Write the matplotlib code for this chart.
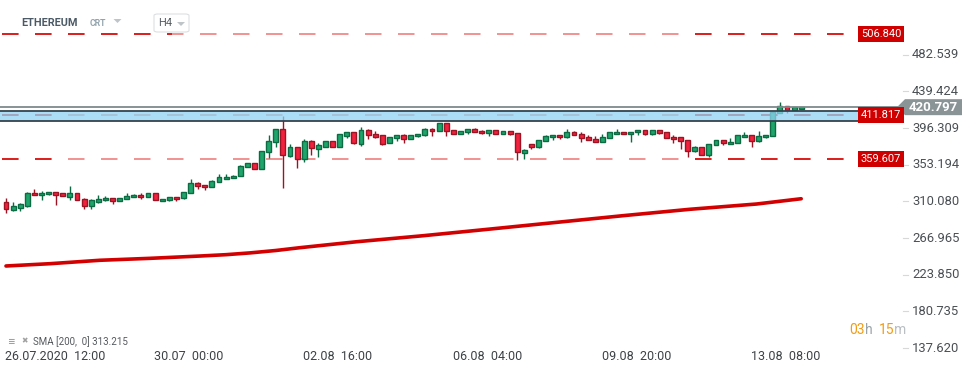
import matplotlib
matplotlib.use("Agg")
import matplotlib.pyplot as plt
import matplotlib.transforms as mtransforms
from matplotlib.patches import Rectangle, FancyBboxPatch, Polygon
import numpy as np

# ---------------- data ----------------
opens = [309.0, 300.4, 302.7, 304.3, 320.0, 317.2, 318.4, 320.7, 319.6, 315.6,
         319.6, 312.5, 304.3, 309.8, 311.3, 313.7, 310.2, 312.5, 314.9, 317.2,
         314.9, 319.6, 310.2, 311.3, 314.9, 313.7, 319.6, 331.3, 329.0, 326.6,
         332.5, 336.0, 337.2, 339.5, 350.1, 354.8, 347.8, 367.7, 379.5, 395.1,
         363.8, 373.6, 359.5, 380.7, 372.0, 374.4, 380.7, 374.4, 387.3, 391.2,
         377.9, 393.6, 388.9, 387.7, 378.3, 384.2, 387.7, 383.0, 386.5, 387.7,
         394.7, 392.4, 401.8, 393.6, 388.9, 391.2, 394.7, 392.4, 390.0, 393.6,
         388.9, 392.4, 390.0, 367.3, 377.1, 374.4, 380.7, 385.4, 387.7, 386.1,
         391.2, 388.9, 385.4, 383.0, 379.5, 384.2, 388.9, 391.2, 388.9, 391.2,
         393.6, 388.9, 393.6, 391.2, 385.4, 385.4, 381.8, 368.9, 373.6, 364.2,
         376.0, 381.8, 377.1, 378.3, 385.4, 387.7, 380.7, 385.4, 386.5, 413.5,
         421.8, 417.1, 418.2]
highs = [314.1, 309.0, 308.2, 320.7, 324.6, 321.9, 320.7, 320.7, 319.6, 328.2,
         319.6, 314.1, 312.5, 317.2, 316.0, 313.7, 313.7, 320.0, 318.8, 320.0,
         319.6, 319.6, 312.5, 314.9, 314.9, 320.7, 336.4, 332.5, 329.0, 334.8,
         342.3, 341.9, 340.7, 352.5, 354.8, 354.8, 369.3, 388.1, 395.1, 410.8,
         377.5, 373.6, 383.4, 382.2, 378.3, 380.7, 381.5, 388.9, 391.2, 391.2,
         397.1, 394.7, 392.4, 387.7, 385.4, 387.7, 388.9, 387.7, 388.9, 395.9,
         395.9, 401.8, 401.8, 393.6, 392.4, 394.7, 395.9, 393.6, 393.6, 393.6,
         392.4, 392.4, 390.0, 371.3, 377.1, 381.8, 387.7, 387.7, 387.7, 394.7,
         392.4, 391.2, 387.7, 386.5, 388.9, 391.2, 394.7, 391.2, 391.2, 393.6,
         393.6, 393.6, 393.6, 391.2, 387.7, 385.4, 381.8, 375.6, 373.6, 377.1,
         381.8, 381.8, 384.2, 387.7, 391.2, 387.7, 392.4, 387.7, 414.7, 426.9,
         421.8, 420.6, 420.8]
lows = [296.8, 299.2, 299.2, 303.9, 317.2, 312.1, 317.2, 306.2, 316.0, 312.1,
        311.3, 301.5, 301.5, 308.6, 310.2, 307.4, 310.2, 312.5, 314.9, 313.3,
        314.9, 311.3, 310.2, 310.2, 310.9, 312.5, 319.6, 325.0, 323.9, 326.6,
        332.5, 336.0, 337.2, 339.5, 350.1, 347.8, 347.8, 361.5, 374.4, 326.2,
        361.9, 349.7, 356.8, 364.6, 362.6, 374.4, 374.4, 374.4, 384.2, 377.9,
        375.6, 383.0, 385.0, 376.7, 378.3, 380.7, 379.1, 383.0, 385.4, 386.5,
        386.5, 392.4, 386.5, 388.9, 388.9, 388.9, 391.2, 388.9, 386.5, 388.9,
        388.9, 387.7, 358.7, 360.3, 372.0, 373.2, 380.7, 381.8, 383.0, 384.2,
        387.7, 380.3, 381.8, 379.5, 379.5, 384.2, 388.9, 388.9, 380.3, 387.7,
        387.7, 387.7, 388.9, 384.2, 378.3, 372.0, 361.9, 367.7, 364.2, 361.9,
        376.0, 376.7, 377.1, 378.3, 385.4, 373.6, 379.5, 384.2, 386.5, 413.5,
        413.5, 417.1, 418.2]
closes = [301.5, 304.3, 307.0, 319.6, 317.2, 319.6, 320.7, 318.0, 316.0, 319.6,
          311.3, 304.3, 311.3, 312.5, 313.7, 310.2, 313.7, 316.0, 317.2, 314.9,
          319.6, 311.3, 312.5, 314.9, 312.5, 320.7, 331.3, 327.8, 326.6, 333.7,
          338.4, 338.4, 339.5, 351.3, 354.8, 347.8, 369.3, 380.7, 395.1, 364.2,
          373.6, 359.5, 380.7, 372.4, 376.0, 380.7, 374.4, 388.9, 391.2, 379.1,
          393.6, 387.7, 386.1, 377.9, 385.4, 387.7, 383.0, 387.7, 388.9, 394.7,
          392.4, 401.8, 392.4, 388.9, 392.4, 394.7, 391.2, 390.0, 393.6, 388.9,
          392.4, 388.9, 367.7, 370.1, 374.4, 381.8, 386.5, 387.7, 385.4, 391.2,
          387.7, 384.2, 381.8, 379.5, 385.4, 391.2, 391.2, 388.9, 391.2, 393.6,
          388.9, 393.6, 390.0, 384.2, 383.0, 380.7, 368.9, 373.6, 364.2, 377.1,
          381.8, 378.3, 379.5, 387.7, 387.7, 380.7, 386.5, 387.7, 414.7, 421.8,
          417.1, 420.6, 420.8]

sma_idx = [0, 6.2, 13.2, 20.3, 27.3, 31.0, 34.4, 38.0, 41.4, 49.4, 58.8, 68.2, 77.6, 86.9, 96.3, 105.7, 112]
sma_val = [234.2, 236.9, 240.9, 243.2, 245.9, 247.5, 249.6, 252.4, 255.7, 262.7, 269.8, 277.6,
           285.5, 293.3, 300.8, 307.0, 313.2]

level_lines = [506.840, 411.817, 359.607]
band_low, band_high = 404.2, 415.9
current_price = 420.797
sma_label = "SMA [200,  0] 313.215"
countdown_parts = ["03", "h ", "15", "m"]

y_ticks = [482.539, 439.424, 396.309, 353.194, 310.080, 266.965, 223.850, 180.735, 137.620]
time_labels = ["26.07.2020  12:00", "30.07  00:00", "02.08  16:00",
               "06.08  04:00", "09.08  20:00", "13.08  08:00"]
time_idx = [0, 21, 42, 63, 84, 105]

# ---------------- figure ----------------
W, H = 974, 375
plt.rcParams["font.family"] = ["Roboto", "DejaVu Sans"]
fig = plt.figure(figsize=(W / 100, H / 100), dpi=100)
fig.patch.set_facecolor("white")
ax = fig.add_axes([0, 0, 1, 1])
ax.set_axis_off()

STEP = 7.1
X0 = 6.0
PX_PRICE = 1.1748
ax.set_xlim(-X0 / STEP, (W - X0) / STEP)
ax.set_ylim(396.309 - (H - 128) * PX_PRICE, 396.309 + 128 * PX_PRICE)


def fx(px):
    return px / W


def fy(py):
    return 1 - py / H


xmax_lines = (845 - X0) / STEP
xmax_band = (858 - X0) / STEP
xmax_gray = (898 - X0) / STEP
x_start = -X0 / STEP

# ---- dashed level lines (light middle, stronger ends) ----
dash = (0, (10.8, 10.8))
for lv in level_lines:
    ax.plot([x_start + 2 / STEP, xmax_lines], [lv, lv], color="#ec7474", lw=1.1,
            linestyle=dash, zorder=1)
    for (a, b) in [(-10, (172 if lv > 500 else 60)), (690, 860)]:
        ln, = ax.plot([x_start + 2 / STEP, xmax_lines], [lv, lv], color="#d80000", lw=1.1,
                      linestyle=dash, zorder=1.1)
        clip = Rectangle(((a - X0) / STEP, lv - 5), (b - a) / STEP, 10,
                         transform=ax.transData, visible=False)
        ax.add_patch(clip)
        ln.set_clip_path(clip)

# ---- SMA line ----
ax.plot(sma_idx, sma_val, color="#d20000", lw=2.6, solid_capstyle="round",
        solid_joinstyle="round", zorder=2)

# ---- candles ----
idx = np.arange(len(opens))
o = np.array(opens); c = np.array(closes); hi = np.array(highs); lo = np.array(lows)
up = c >= o
green_f, green_e = "#1fa56b", "#0c6b42"
red_f, red_e = "#f2213e", "#9a1424"
for i in idx:
    fcol = green_f if up[i] else red_f
    ecol = green_e if up[i] else red_e
    ax.vlines(i, lo[i], hi[i], color=ecol, lw=1.0, zorder=3)
    b0 = min(o[i], c[i]); hgt = max(abs(c[i] - o[i]), 1.2)
    ax.add_patch(Rectangle((i - 0.35, b0), 0.70, hgt, facecolor=fcol, edgecolor=ecol,
                           lw=1.0, zorder=4))

# ---- resistance band ----
ax.add_patch(Rectangle((x_start, band_low), xmax_band - x_start, band_high - band_low,
                       facecolor="#8fd3f3", alpha=0.75, edgecolor="none", zorder=5))
ax.plot([x_start, xmax_band], [band_high, band_high], color="#34434d", lw=1.3, zorder=6)
ax.plot([x_start, xmax_band], [band_low, band_low], color="#34434d", lw=1.3, zorder=6)
ax.plot([x_start, xmax_gray], [current_price, current_price], color="#7f8a8d", lw=1.3, zorder=6)

# ---- right side labels ----
tr_fx_dy = mtransforms.blended_transform_factory(fig.transFigure, ax.transData)
for lv in level_lines:
    ax.text(fx(881), lv, f"{lv:.3f}", transform=tr_fx_dy, ha="center", va="center",
            fontsize=8, color="white", zorder=10,
            bbox=dict(boxstyle="square,pad=0.28", facecolor="#d00000", edgecolor="none"))

for t in y_ticks:
    ax.text(fx(912), t, f"{t:.3f}", transform=tr_fx_dy, ha="left", va="center",
            fontsize=9.4, color="#4a4f54", zorder=10)
    ax.plot([fx(903), fx(908)], [t, t], transform=tr_fx_dy, color="#d8d8d8", lw=0.8)

# current price tag (arrow shape)
half = 8 * PX_PRICE
poly = Polygon([(fx(897), current_price), (fx(905), current_price + half),
                (fx(962), current_price + half), (fx(962), current_price - half),
                (fx(905), current_price - half)],
               closed=True, transform=tr_fx_dy, facecolor="#8a9497", edgecolor="none", zorder=9)
ax.add_patch(poly)
ax.text(fx(933), current_price, f"{current_price:.3f}", transform=tr_fx_dy, ha="center",
        va="center", fontsize=9.5, fontweight="bold", color="white", zorder=10)

# ---- header ----
fig.patches.append(FancyBboxPatch((fx(154), fy(32)), fx(35), 18 / H,
                                  boxstyle="round,pad=0,rounding_size=0.004",
                                  transform=fig.transFigure, facecolor="white",
                                  edgecolor="#dcdfe2", lw=0.8, zorder=1))
for (cx, cy) in [(117.5, 21), (181, 24)]:
    fig.patches.append(Polygon([(fx(cx - 4), fy(cy - 2)), (fx(cx + 4), fy(cy - 2)),
                                (fx(cx), fy(cy + 2))],
                               closed=True, transform=fig.transFigure, facecolor="#bfc4c8",
                               edgecolor="none", zorder=2))
fig.text(fx(21), fy(23), "ETHEREUM", fontsize=7.8, fontweight="bold", color="#4b5a66",
         ha="left", va="center")
fig.text(fx(90), fy(24), "CRT", fontsize=6.2, fontweight="bold", color="#93a3ad",
         ha="left", va="center")
fig.text(fx(158), fy(23.5), "H4", fontsize=8, color="#555c62", ha="left", va="center")

# ---- bottom texts ----
fig.text(fx(7), fy(341), "≡", fontsize=6.5, color="#a0a0a0", ha="left", va="center",
         family=["DejaVu Sans"], fontweight="bold")
fig.text(fx(21), fy(341), "✖", fontsize=5.5, color="#a0a0a0", ha="left", va="center",
         family=["DejaVu Sans"])
fig.text(fx(33), fy(342), sma_label, fontsize=7, color="#555a5f", ha="left", va="center")

tr_dx_fy = mtransforms.blended_transform_factory(ax.transData, fig.transFigure)
for lab, ti in zip(time_labels, time_idx):
    ax.text(ti - 0.1, fy(357), lab, transform=tr_dx_fy, ha="left", va="center",
            fontsize=9, color="#3d4246")

# countdown: pieces placed one after another using measured widths
renderer = fig.canvas.get_renderer()
colors_cd = ["#f39c12", "#9aa3a8", "#f39c12", "#b9bfc3"]
xpos = 849.0
for s, col in zip(countdown_parts, colors_cd):
    tt = fig.text(fx(xpos), fy(330), s, fontsize=10, color=col, ha="left", va="center")
    bb = tt.get_window_extent(renderer=renderer)
    xpos += bb.width + (2.5 if s.endswith(" ") else 0.3)

fig.savefig("out.png", dpi=100, facecolor="white")
